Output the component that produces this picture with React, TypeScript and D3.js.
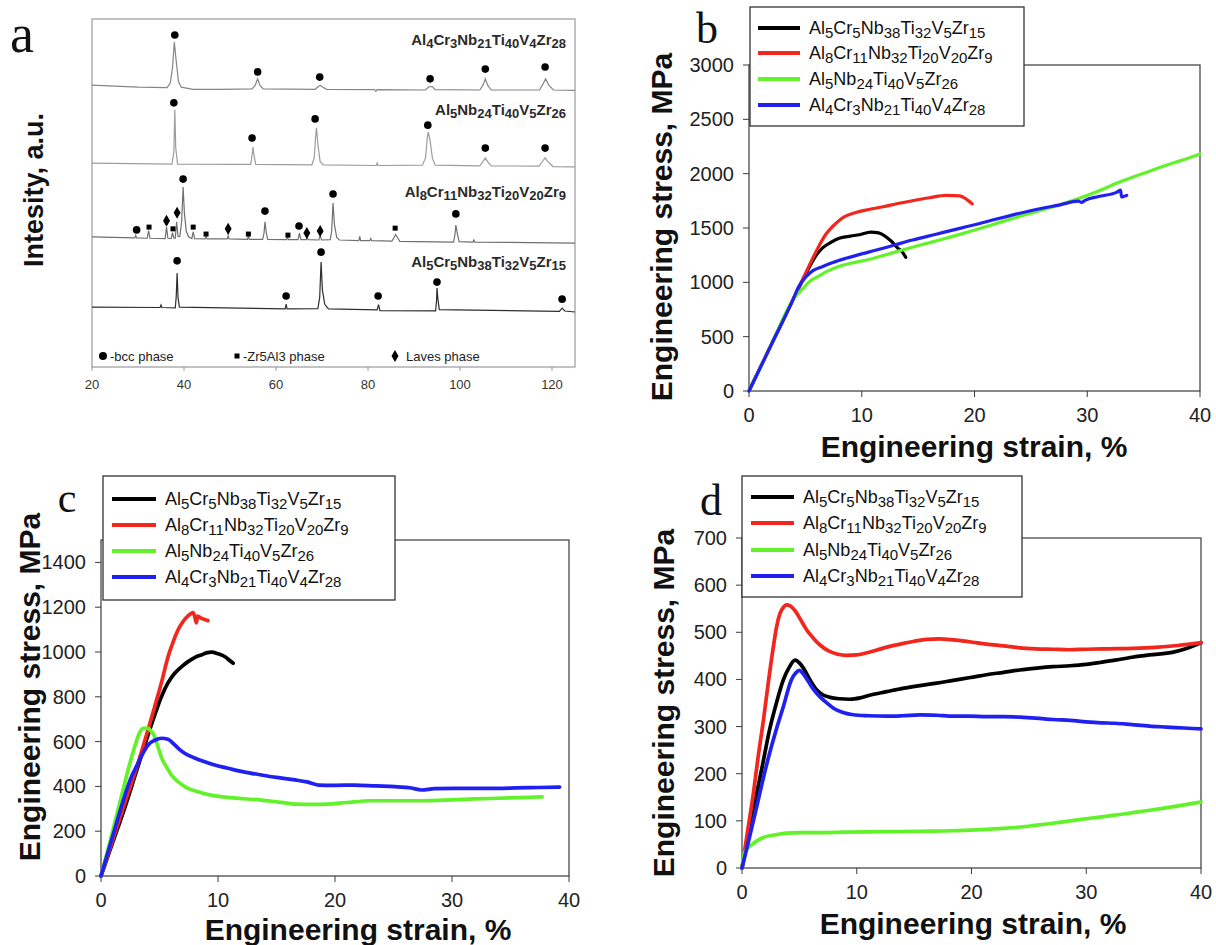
import React from "react";
import * as d3 from "d3";

// ---------- shared ----------
const alloyNames = [
  "Al5Cr5Nb38Ti32V5Zr15",
  "Al8Cr11Nb32Ti20V20Zr9",
  "Al5Nb24Ti40V5Zr26",
  "Al4Cr3Nb21Ti40V4Zr28",
];
const curveColors = ["#000000", "#f2261c", "#62f22a", "#2020f0"];
const strainTicks = [0, 10, 20, 30, 40];

// ---------- panel a : XRD ----------
const xrdTicks = [20, 40, 60, 80, 100, 120];
const xrdNames = [
  "Al4Cr3Nb21Ti40V4Zr28",
  "Al5Nb24Ti40V5Zr26",
  "Al8Cr11Nb32Ti20V20Zr9",
  "Al5Cr5Nb38Ti32V5Zr15",
];
const xrdColors = ["#858585", "#9c9c9c", "#707070", "#2e2e2e"];

const xrdTrace1 = [
  [20, 81], [30, 80.4], [36.3, 80.3], [37.0, 81.5], [37.5, 86], [37.9, 93.4], [38.3, 88], [38.8, 82],
  [39.4, 80.4], [42, 79.8], [48, 79.8], [54.8, 79.9], [55.5, 81], [56, 82.8], [56.5, 81], [57.2, 79.9],
  [68.5, 79.8], [69.2, 80.6], [69.6, 80.9], [70.2, 80.4], [71, 79.8], [81.4, 79.7], [81.7, 79.2],
  [82, 79.7], [92.5, 79.6], [93.2, 80.5], [94, 80.6], [94.6, 79.7], [104.3, 79.6], [105, 81],
  [105.5, 82.8], [106, 81], [106.8, 79.6], [117.3, 79.6], [118, 81.2], [118.6, 82.8], [119.3, 81],
  [120.3, 79.6], [125, 79.5],
];
const xrdTrace2 = [
  [20, 58.6], [37.4, 58.3], [37.8, 62], [38.0, 73.9], [38.2, 63], [38.6, 58.3], [54.5, 58.2],
  [54.8, 61], [55, 63.2], [55.2, 61], [55.6, 58.2], [67.8, 58.1], [68.3, 60], [68.6, 66], [68.8, 68.7],
  [69.1, 64], [69.6, 59], [70.3, 58.1], [81.8, 57.9], [82, 58.6], [82.2, 57.9], [91.8, 58], [92.5, 60],
  [92.9, 66], [93.1, 67.5], [93.5, 65], [94, 60], [94.6, 58], [104.3, 57.8], [105, 59], [105.5, 60.1],
  [106, 59], [106.8, 57.8], [117.2, 57.7], [118, 59.2], [118.5, 60.1], [119.1, 59], [120.2, 57.6],
  [125, 57.5],
];
const xrdTrace3 = [
  [20, 37.4], [29.3, 37.1], [29.5, 37.8], [29.7, 37.1], [32.0, 37], [32.3, 39.2], [32.6, 37],
  [35.9, 36.9], [36.2, 40.2], [36.5, 37], [37.2, 36.9], [37.5, 38.6], [37.8, 37], [38.1, 37],
  [38.4, 41.7], [38.7, 37.5], [39.1, 37.5], [39.5, 42], [39.8, 51.7], [40.1, 44], [40.5, 39], [41, 37.4],
  [41.7, 36.9], [42, 38.8], [42.3, 36.9], [44.6, 36.8], [44.8, 37.5], [45, 36.8], [49.4, 36.8],
  [49.6, 37.7], [49.8, 36.8], [53.8, 36.7], [54, 37.6], [54.2, 36.7], [57.1, 36.7], [57.4, 38.5],
  [57.6, 41.7], [57.9, 38.5], [58.2, 36.7], [62.3, 36.6], [62.5, 37.4], [62.7, 36.6], [64.8, 36.6],
  [65.1, 38.5], [65.4, 36.6], [66.6, 36.6], [66.8, 37.2], [67, 36.6], [69.3, 36.5], [69.6, 37.8],
  [69.9, 36.5], [71.8, 36.6], [72.1, 39], [72.4, 47.1], [72.7, 41], [73.2, 37.2], [73.8, 36.5],
  [78, 36.3], [78.2, 37.5], [78.4, 36.3], [80.4, 36.3], [80.6, 36.9], [80.8, 36.3], [85.2, 36.2],
  [85.7, 37.3], [86, 38], [86.4, 37.2], [86.9, 36.1], [98.6, 35.9], [98.9, 38], [99.1, 40.8],
  [99.4, 38.5], [99.8, 36], [102.8, 35.9], [103, 36.5], [103.2, 35.9], [125, 35.6],
];
const xrdTrace4 = [
  [20, 17.2], [34.8, 17.1], [35, 17.8], [35.2, 17.1], [38.1, 17], [38.3, 20], [38.5, 27], [38.7, 20],
  [39, 17.2], [62, 16.7], [62.2, 18.1], [62.4, 16.7], [69.1, 16.8], [69.5, 20], [69.8, 30.2], [70.1, 22],
  [70.6, 18], [71.4, 16.7], [82, 16.4], [82.3, 17.9], [82.6, 16.2], [94.7, 16.1], [94.9, 19], [95, 22.7],
  [95.2, 19.5], [95.5, 16.5], [121.6, 16], [122.2, 16.9], [122.8, 16.1], [125, 15.8],
];
const xrdTraces = [xrdTrace1, xrdTrace2, xrdTrace3, xrdTrace4];

const bccMarks = [
  [38, 95.4], [56, 84.8], [69.5, 83.3], [93.5, 82.8], [105.5, 85.6], [118.5, 86.2],
  [37.8, 75.9], [54.8, 65.8], [68.5, 71.3], [93, 69.5], [105.5, 62.9], [118.5, 62.9],
  [29.7, 39.4], [39.8, 54], [57.6, 44.8], [65, 40.5], [72.4, 49.7], [99.1, 44],
  [38.5, 30.5], [62.2, 20.4], [69.8, 33], [82.2, 20.4], [95, 24.4], [122.2, 19.5],
];
const zrAlMarks = [[32.4, 40.2], [37.6, 39.7], [42, 40.2], [44.8, 38.2], [54, 38.2], [62.6, 37.9], [85.9, 39.9]];
const lavesMarks = [[36.2, 42], [38.5, 44.3], [49.6, 39.7], [66.7, 38.5], [69.6, 39.1]];

// ---------- panel b ----------
const bYTicks = [0, 500, 1000, 1500, 2000, 2500, 3000];
const bBlack = [
  [0, 0], [2, 431], [3.9, 840], [4.6, 985], [5.3, 1130], [5.9, 1240], [6.5, 1315], [7.3, 1370],
  [8.0, 1405], [9.0, 1425], [9.8, 1438], [10.8, 1462], [11.5, 1455], [12.0, 1430], [12.6, 1380],
  [13.3, 1305], [13.6, 1280], [13.9, 1230],
];
const bRed = [
  [0, 0], [2, 431], [3.9, 840], [5.0, 1080], [5.94, 1282], [6.8, 1440], [7.7, 1542], [8.4, 1600],
  [9.2, 1634], [10.5, 1668], [11.9, 1696], [13.2, 1725], [14.5, 1751], [16, 1778], [17.5, 1800],
  [18.7, 1796], [19.3, 1763], [19.8, 1722],
];
const bGreen = [
  [0, 0], [2, 431], [3.9, 840], [4.8, 945], [5.4, 1010], [6.1, 1052], [7, 1105], [7.9, 1144], [9, 1175],
  [10.4, 1205], [12, 1250], [13.6, 1297], [15.2, 1343], [16.9, 1389], [18.4, 1432], [19.8, 1475],
  [21.5, 1528], [23.1, 1579], [24.5, 1622], [26, 1665], [27.7, 1718], [29.3, 1773], [31, 1840],
  [32.6, 1911], [34.5, 1985], [36.5, 2060], [38.3, 2120], [40, 2182],
];
const bBlue = [
  [0, 0], [2, 431], [3.9, 840], [4.4, 960], [5.06, 1052], [5.7, 1110], [6.5, 1144], [7.5, 1185],
  [8.6, 1221], [10, 1262], [11.3, 1297], [12.9, 1343], [14.5, 1389], [16.6, 1443], [18.7, 1497],
  [20.2, 1535], [21.6, 1573], [23.1, 1612], [24.6, 1650], [26, 1682], [27.5, 1711], [29.2, 1748],
  [29.5, 1735], [29.8, 1755], [31, 1790], [32.6, 1828], [32.95, 1848], [33.05, 1785], [33.5, 1800],
];

// ---------- panel c ----------
const cYTicks = [0, 200, 400, 600, 800, 1000, 1200, 1400];
const cBlack = [
  [0, 0], [1, 150], [2, 300], [2.88, 443], [3.5, 545], [4.16, 652], [4.7, 735], [5.16, 800],
  [5.7, 860], [6.3, 905], [6.9, 935], [7.44, 957], [8.0, 975], [8.58, 987], [9.1, 997], [9.43, 999],
  [10.0, 992], [10.6, 979], [11.0, 962], [11.3, 950],
];
const cRed = [
  [0, 0], [1, 160], [2, 320], [3.16, 503], [4.0, 650], [4.59, 756], [5.2, 870], [5.73, 979],
  [6.2, 1050], [6.58, 1098], [7.0, 1135], [7.44, 1161], [7.86, 1176], [8.0, 1160], [8.15, 1130],
  [8.25, 1160], [8.6, 1150], [9.14, 1140],
];
const cGreen = [
  [0, 0], [0.8, 160], [1.74, 354], [2.4, 490], [2.88, 577], [3.3, 640], [3.6, 659], [4.02, 660],
  [4.3, 645], [4.44, 637], [4.87, 577], [5.2, 525], [5.58, 488], [6.0, 452], [6.58, 421], [7.3, 395],
  [8.29, 376], [9.5, 360], [10.85, 351], [12.2, 345], [13.7, 339], [15.2, 330], [16.8, 321], [18, 320],
  [19.4, 321], [21, 328], [23.1, 336], [25, 336], [27.4, 336], [30, 340], [32, 344], [33.9, 347],
  [35.8, 350], [37.7, 353],
];
const cBlue = [
  [0, 0], [1, 178], [1.74, 309], [2.5, 430], [3.16, 503], [3.6, 550], [4.02, 585], [4.6, 606],
  [5.16, 615], [5.73, 610], [6.3, 585], [6.7, 565], [7.15, 548], [8, 527], [8.86, 510], [9.8, 494],
  [10.85, 481], [12.2, 465], [13.7, 451], [15, 440], [16.6, 429], [17.6, 420], [18.6, 406], [20, 405],
  [21.7, 406], [23.5, 402], [25.1, 399], [26.5, 393], [27.4, 384], [28.5, 390], [30.2, 391], [32, 391],
  [33.9, 391], [35.5, 393], [37.5, 395], [39.2, 397],
];

// ---------- panel d ----------
const dYTicks = [0, 100, 200, 300, 400, 500, 600, 700];
const dBlack = [
  [0, 0], [0.6, 75], [1.28, 158], [1.8, 220], [2.4, 293], [3.0, 350], [3.6, 399], [4.1, 425],
  [4.62, 441], [5.0, 435], [5.35, 424], [5.9, 400], [6.5, 378], [7.0, 368], [7.67, 362], [8.5, 359],
  [9.4, 358], [10.3, 361], [11.2, 367], [12.6, 374], [14, 381], [15.5, 387], [16.97, 392], [18.4, 398],
  [19.9, 404], [21.3, 410], [22.8, 415], [24.2, 420], [25.7, 424], [27.1, 427], [28.6, 429], [30, 432],
  [31.2, 436], [32.5, 441], [34, 447], [35.5, 452], [37.6, 458], [38.8, 466], [40, 478],
];
const dRed = [
  [0, 0], [0.5, 80], [0.99, 158], [1.4, 235], [1.87, 314], [2.3, 395], [2.73, 469], [3.0, 510],
  [3.31, 540], [3.6, 553], [3.89, 558], [4.2, 556], [4.62, 546], [5.1, 527], [5.64, 505], [6.2, 488],
  [6.8, 473], [7.5, 461], [8.26, 454], [9.1, 451], [10.0, 452], [10.8, 456], [11.7, 462], [12.7, 469],
  [13.8, 475], [15, 481], [16.1, 485], [17.2, 486], [18.4, 484], [19.8, 480], [21.3, 475], [22.8, 471],
  [24.2, 467], [25.6, 465], [27.1, 464], [28.5, 463], [30, 464], [32, 465], [34, 466], [36, 468],
  [38, 472], [40, 478],
];
const dGreen = [
  [0, 0], [0.2, 31], [0.5, 42], [0.99, 52], [1.4, 59], [1.87, 65], [2.8, 70], [3.89, 74], [5, 75],
  [6.8, 75], [9, 76], [12.6, 77], [15.5, 78], [18.4, 79], [20.5, 81], [22.8, 84], [24.3, 87],
  [25.7, 91], [27.1, 95], [28.6, 100], [30.5, 106], [32.5, 112], [34.5, 119], [36.5, 126], [38.3, 133],
  [40, 140],
];
const dBlue = [
  [0, 0], [0.6, 60], [1.28, 130], [1.8, 185], [2.4, 243], [3.0, 295], [3.6, 342], [4.3, 399],
  [4.7, 414], [5.0, 419], [5.3, 413], [5.7, 399], [6.2, 380], [6.8, 363], [7.4, 350], [7.97, 339],
  [8.8, 330], [9.7, 325], [11, 323], [12.6, 322], [14, 323], [15.5, 325], [17, 324], [18.4, 322],
  [19.8, 322], [21.3, 321], [22.8, 321], [24.2, 320], [25.6, 318], [27.1, 315], [28.6, 313], [30, 310],
  [31.3, 308], [32.5, 307], [34, 304], [35.5, 301], [37, 299], [38.5, 297], [40, 295],
];

const SANS = "'Liberation Sans', Arial, sans-serif";
const SERIF = "'Liberation Serif', 'Times New Roman', serif";

// chemical formula with lowered digits
function Formula({ x, y, text, size, subSize, shift, anchor = "start", weight = "normal", fill = "#000" }) {
  const parts = [...text.matchAll(/([A-Z][a-z]?)(\d*)/g)];
  const pieces: any[] = [];
  let lowered = false;
  parts.forEach((m, i) => {
    pieces.push(
      <tspan key={"e" + i} dy={lowered ? -shift : 0}>
        {m[1]}
      </tspan>
    );
    lowered = false;
    if (m[2]) {
      pieces.push(
        <tspan key={"n" + i} dy={shift} fontSize={subSize}>
          {m[2]}
        </tspan>
      );
      lowered = true;
    }
  });
  return (
    <text x={x} y={y} textAnchor={anchor} fontSize={size} fontWeight={weight} fill={fill} fontFamily={SANS}>
      {pieces}
    </text>
  );
}

function XrdPanel() {
  const left = 92, right = 575, top = 19, bottom = 367;
  const x = d3.scaleLinear().domain([20, 125]).range([left, right]);
  const y = d3.scaleLinear().domain([0, 100]).range([bottom, top]);
  const line = d3.line<number[]>().x((d) => x(d[0])).y((d) => y(d[1]));
  const labelY = [45, 115, 197, 267];
  const diamond = d3.symbol().type(d3.symbolDiamond).size(42)();
  return (
    <g>
      <rect x={left} y={top} width={right - left} height={bottom - top} fill="none" stroke="#9a9a9a" strokeWidth={1.2} />
      {xrdTicks.map((t) => (
        <g key={t}>
          <line x1={x(t)} x2={x(t)} y1={bottom} y2={bottom + 4} stroke="#9a9a9a" />
          <text x={x(t)} y={bottom + 17} textAnchor="middle" dominantBaseline="central" fontSize={13} fill="#333" fontFamily={SANS}>
            {t}
          </text>
        </g>
      ))}
      {xrdTraces.map((tr, i) => (
        <path key={i} d={line(tr) || ""} fill="none" stroke={xrdColors[i]} strokeWidth={1.2} />
      ))}
      {bccMarks.map((m, i) => (
        <circle key={"b" + i} cx={x(m[0])} cy={y(m[1])} r={3.8} fill="#000" />
      ))}
      {zrAlMarks.map((m, i) => (
        <rect key={"z" + i} x={x(m[0]) - 2.5} y={y(m[1]) - 2.5} width={5} height={5} fill="#000" />
      ))}
      {lavesMarks.map((m, i) => (
        <path key={"l" + i} d={diamond || ""} transform={`translate(${x(m[0])},${y(m[1])})`} fill="#000" />
      ))}
      {xrdNames.map((n, i) => (
        <Formula key={n} x={566} y={labelY[i]} text={n} size={15} subSize={13} shift={3} anchor="end" weight="bold" fill="#2a2a2a" />
      ))}
      {/* phase legend */}
      <circle cx={103} cy={356} r={4} fill="#000" />
      <text x={110} y={356} dominantBaseline="central" fontSize={13} fill="#222" fontFamily={SANS}>-bcc phase</text>
      <rect x={234.5} y={353.5} width={5} height={5} fill="#000" />
      <text x={243} y={356} dominantBaseline="central" fontSize={13} fill="#222" fontFamily={SANS}>-Zr5Al3 phase</text>
      <path d={diamond || ""} transform="translate(395,356)" fill="#000" />
      <text x={406} y={356} dominantBaseline="central" fontSize={13} fill="#222" fontFamily={SANS}>Laves phase</text>
      <text transform="translate(34,190) rotate(-90)" textAnchor="middle" dominantBaseline="central" fontSize={27} fontWeight="bold" fill="#111" fontFamily={SANS}>
        Intesity, a.u.
      </text>
      <text x={22} y={52} textAnchor="middle" fontSize={54} fill="#111" fontFamily={SERIF}>a</text>
    </g>
  );
}

function StressPanel({ box, yMax, yTicks, series, legend, letter, yTitle, xTitle, lineWidth }) {
  const x = d3.scaleLinear().domain([0, 40]).range([box.left, box.right]);
  const y = d3.scaleLinear().domain([0, yMax]).range([box.bottom, box.top]);
  const line = d3
    .line<number[]>()
    .x((d) => x(d[0]))
    .y((d) => y(d[1]))
    .curve(d3.curveMonotoneX);
  return (
    <g>
      <rect x={box.left} y={box.top} width={box.right - box.left} height={box.bottom - box.top} fill="none" stroke="#3a3a3a" strokeWidth={1.2} />
      {yTicks.map((t) => (
        <g key={t}>
          <line x1={box.left - 6} x2={box.left} y1={y(t)} y2={y(t)} stroke="#3a3a3a" />
          <text x={box.left - 15} y={y(t)} textAnchor="end" dominantBaseline="central" fontSize={20} fill="#222" fontFamily={SANS}>
            {t}
          </text>
        </g>
      ))}
      {strainTicks.map((t) => (
        <g key={t}>
          <line x1={x(t)} x2={x(t)} y1={box.bottom} y2={box.bottom + 6} stroke="#3a3a3a" />
          <text x={x(t)} y={box.bottom + 24} textAnchor="middle" dominantBaseline="central" fontSize={20} fill="#222" fontFamily={SANS}>
            {t}
          </text>
        </g>
      ))}
      {series.map((s, i) => (
        <path key={i} d={line(s) || ""} fill="none" stroke={curveColors[i]} strokeWidth={lineWidth} strokeLinejoin="round" strokeLinecap="round" />
      ))}
      <rect x={legend.x0} y={legend.y0} width={legend.x1 - legend.x0} height={legend.y1 - legend.y0} fill="#fff" stroke="#333" strokeWidth={1.3} />
      {alloyNames.map((n, i) => (
        <g key={n}>
          <line x1={legend.lx0} x2={legend.lx1} y1={legend.rows[i]} y2={legend.rows[i]} stroke={curveColors[i]} strokeWidth={4} />
          <Formula x={legend.tx} y={legend.rows[i] + 6} text={n} size={18} subSize={15} shift={4} fill="#111" />
        </g>
      ))}
      <text x={letter.x} y={letter.y} textAnchor="middle" fontSize={letter.size} fill="#111" fontFamily={SERIF}>
        {letter.text}
      </text>
      <text transform={`translate(${yTitle.x},${yTitle.y}) rotate(-90)`} textAnchor="middle" dominantBaseline="central" fontSize={30} fontWeight="bold" fill="#111" fontFamily={SANS}>
        Engineering stress, MPa
      </text>
      <text x={xTitle.x} y={xTitle.y} textAnchor="middle" dominantBaseline="central" fontSize={30} fontWeight="bold" fill="#111" fontFamily={SANS}>
        Engineering strain, %
      </text>
    </g>
  );
}

export default function App() {
  return (
    <svg width={1216} height={945} style={{ position: "absolute", left: 0, top: 0, background: "#fff" }}>
      <rect width={1216} height={945} fill="#fff" />
      <XrdPanel />
      <StressPanel
        box={{ left: 749, right: 1200, top: 65, bottom: 391 }}
        yMax={3000}
        yTicks={bYTicks}
        series={[bBlack, bRed, bGreen, bBlue]}
        legend={{ x0: 750, x1: 1024, y0: 7, y1: 126, rows: [28, 53, 79, 105], lx0: 758, lx1: 800, tx: 809 }}
        letter={{ text: "b", x: 707, y: 43, size: 44 }}
        yTitle={{ x: 661, y: 227 }}
        xTitle={{ x: 974, y: 446 }}
        lineWidth={3.2}
      />
      <StressPanel
        box={{ left: 101, right: 569, top: 540, bottom: 876 }}
        yMax={1500}
        yTicks={cYTicks}
        series={[cBlack, cRed, cGreen, cBlue]}
        legend={{ x0: 103, x1: 395, y0: 476, y1: 600, rows: [499, 525, 551, 577], lx0: 112, lx1: 156, tx: 165 }}
        letter={{ text: "c", x: 67, y: 512, size: 42 }}
        yTitle={{ x: 29, y: 687 }}
        xTitle={{ x: 358, y: 929 }}
        lineWidth={3.7}
      />
      <StressPanel
        box={{ left: 742, right: 1201, top: 538, bottom: 868 }}
        yMax={700}
        yTicks={dYTicks}
        series={[dBlack, dRed, dGreen, dBlue]}
        legend={{ x0: 742, x1: 1022, y0: 476, y1: 597, rows: [497, 523, 550, 576], lx0: 751, lx1: 794, tx: 803 }}
        letter={{ text: "d", x: 711, y: 515, size: 44 }}
        yTitle={{ x: 663, y: 703 }}
        xTitle={{ x: 973, y: 923 }}
        lineWidth={3.7}
      />
    </svg>
  );
}
